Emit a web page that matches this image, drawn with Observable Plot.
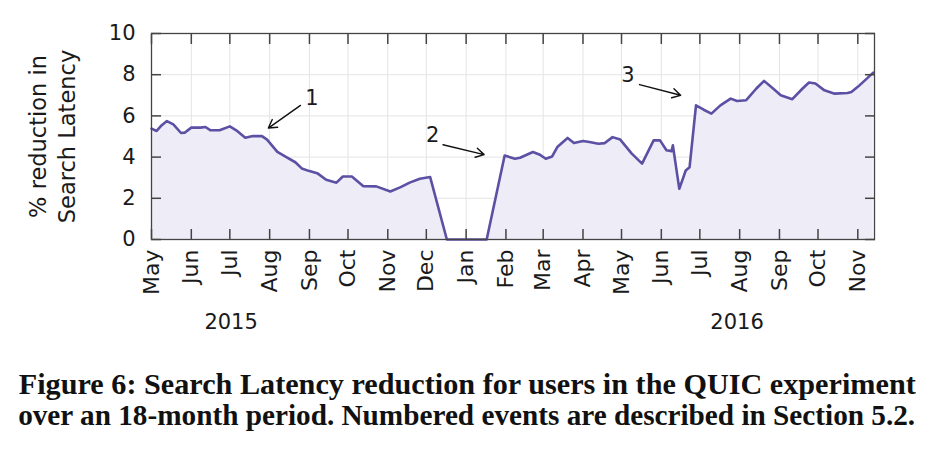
<!DOCTYPE html>
<html>
<head>
<meta charset="utf-8">
<script src="https://cdn.jsdelivr.net/npm/d3@7"></script>
<script src="https://cdn.jsdelivr.net/npm/@observablehq/plot@0.6"></script>
<style>
  html, body { margin: 0; padding: 0; background: #fff; }
  #chart { width: 930px; }
  #caption { font-family: "Liberation Serif", "Times New Roman", serif; font-weight: bold; font-size: 29px; color: #111; margin-top: 24px; }
  #caption div { white-space: nowrap; line-height: 31px; height: 31px; transform-origin: 0 0; padding-left: 18px; }
</style>
</head>
<body>
<div id="chart"></div>
<div id="caption">
  <div><span>Figure 6: Search Latency reduction for users in the QUIC experiment</span></div>
  <div><span>over an 18-month period. Numbered events are described in Section 5.2.</span></div>
</div>
<script>
// ---- data ----
const dates = [
  "2015-05-01","2015-05-05","2015-05-09","2015-05-13","2015-05-18","2015-05-24","2015-05-27",
  "2015-06-01","2015-06-08","2015-06-12","2015-06-16","2015-06-23","2015-07-01","2015-07-06",
  "2015-07-13","2015-07-19","2015-07-26","2015-07-30","2015-08-07","2015-08-14","2015-08-21",
  "2015-08-26","2015-09-01","2015-09-07","2015-09-14","2015-09-22","2015-09-27","2015-10-04",
  "2015-10-13","2015-10-23","2015-11-03","2015-11-11","2015-11-18","2015-11-26","2015-12-04",
  "2015-12-17","2016-01-17","2016-01-31","2016-02-08","2016-02-12","2016-02-22","2016-02-27",
  "2016-03-03","2016-03-08","2016-03-12","2016-03-20","2016-03-25","2016-04-01","2016-04-06",
  "2016-04-13","2016-04-18","2016-04-24","2016-04-30","2016-05-09","2016-05-17","2016-05-26",
  "2016-05-31","2016-06-05","2016-06-09","2016-06-10","2016-06-15","2016-06-20","2016-06-23",
  "2016-06-28","2016-07-04","2016-07-10","2016-07-17","2016-07-25","2016-07-30","2016-08-06",
  "2016-08-08","2016-08-14","2016-08-20","2016-08-27","2016-09-02","2016-09-11","2016-09-19",
  "2016-09-24","2016-09-29","2016-10-06","2016-10-14","2016-10-24","2016-10-27","2016-11-01",
  "2016-11-08","2016-11-13"
];
const values = [
  5.38,5.27,5.55,5.75,5.59,5.17,5.19,
  5.43,5.43,5.46,5.30,5.30,5.49,5.30,
  4.94,5.02,5.02,4.85,4.25,4.00,3.75,
  3.45,3.32,3.22,2.90,2.76,3.06,3.06,
  2.59,2.58,2.33,2.54,2.76,2.95,3.03,
  0,0,4.08,3.92,3.97,4.25,4.13,
  3.92,4.03,4.49,4.93,4.68,4.78,4.73,
  4.65,4.68,4.97,4.85,4.17,3.68,4.81,
  4.81,4.33,4.29,4.57,2.46,3.35,3.51,
  6.51,6.30,6.11,6.51,6.84,6.72,6.76,
  6.90,7.33,7.70,7.33,7.00,6.81,7.33,
  7.62,7.57,7.24,7.08,7.11,7.16,7.41,
  7.81,8.10
];
const monthTickDates = [
  "2015-05-01","2015-06-01","2015-07-01","2015-08-01","2015-09-01","2015-10-01","2015-11-01",
  "2015-12-01","2016-01-01","2016-02-01","2016-03-01","2016-04-01","2016-05-01","2016-06-01",
  "2016-07-01","2016-08-01","2016-09-01","2016-10-01","2016-11-01"
];
const monthLabels = ["May","Jun","Jul","Aug","Sep","Oct","Nov","Dec","Jan","Feb","Mar","Apr","May","Jun","Jul","Aug","Sep","Oct","Nov"];
const yTicks = [0, 2, 4, 6, 8, 10];
const yearLabels = ["2015", "2016"];
const yearLabelDates = ["2015-07-02", "2016-07-30"];
const xDomain = ["2015-05-01", "2016-11-14"];
const yDomain = [0, 10];
const yTitle = "% reduction in\nSearch Latency";

// annotations: label position and arrow start / end
const annoLabels = ["1", "2", "3"];
const annoLabelDates = ["2015-09-03", "2015-12-06", "2016-05-06"];
const annoLabelValues = [6.84, 5.06, 7.97];
const arrowFromDates = ["2015-08-25", "2015-12-14", "2016-05-15"];
const arrowFromValues = [6.51, 4.60, 7.52];
const arrowToDates = ["2015-07-31", "2016-01-15", "2016-06-16"];
const arrowToValues = [5.41, 4.12, 7.00];

// ---- build tables ----
const parse = d3.utcParse("%Y-%m-%d");
const data = dates.map((d, i) => ({date: parse(d), value: values[i]}));
const months = monthTickDates.map((d, i) => ({date: parse(d), label: monthLabels[i]}));
const monthDates = months.map(m => m.date);
const years = yearLabels.map((t, i) => ({date: parse(yearLabelDates[i]), label: t}));
const annos = annoLabels.map((t, i) => ({
  label: t,
  lx: parse(annoLabelDates[i]), ly: annoLabelValues[i],
  x1: parse(arrowFromDates[i]), y1: arrowFromValues[i],
  x2: parse(arrowToDates[i]), y2: arrowToValues[i]
}));

const lineColor = "#5b50a3";
const fillColor = "#edecf7";
const gridColor = "#e4e4e4";
const frameColor = "#444";

const chart = Plot.plot({
  width: 930,
  height: 345,
  marginLeft: 151,
  marginRight: 56,
  marginTop: 33,
  marginBottom: 106,
  style: {fontFamily: "DejaVu Sans", fontSize: "21px", color: "#1a1a1a", background: "#fff"},
  x: {type: "utc", domain: xDomain.map(parse)},
  y: {domain: yDomain},
  marks: [
    Plot.gridX(monthDates, {stroke: gridColor, strokeOpacity: 1}),
    Plot.gridY(yTicks, {stroke: gridColor, strokeOpacity: 1}),
    Plot.areaY(data, {x: "date", y: "value", fill: fillColor}),
    Plot.lineY(data, {x: "date", y: "value", stroke: lineColor, strokeWidth: 2.6, strokeLinejoin: "round"}),
    Plot.axisX(monthDates, {anchor: "bottom", tickSize: -10, tickFormat: () => "", stroke: frameColor, strokeWidth: 1.5, label: null}),
    Plot.axisX(monthDates, {anchor: "top", tickSize: -10, tickFormat: () => "", stroke: frameColor, strokeWidth: 1.5, label: null}),
    Plot.axisY(yTicks, {anchor: "left", tickSize: -10, tickFormat: () => "", stroke: frameColor, strokeWidth: 1.5, label: null}),
    Plot.axisY(yTicks, {anchor: "right", tickSize: -10, tickFormat: () => "", stroke: frameColor, strokeWidth: 1.5, label: null}),
    Plot.text(yTicks, {x: null, y: d => d, text: d => String(d), frameAnchor: "left", textAnchor: "end", dx: -16}),
    Plot.text(months, {x: "date", text: "label", frameAnchor: "bottom", rotate: -90, textAnchor: "end", lineAnchor: "middle", dy: 10, fontSize: 22}),
    Plot.text(years, {x: "date", text: "label", frameAnchor: "bottom", dy: 89}),
    Plot.text([yTitle], {frameAnchor: "left", rotate: -90, textAnchor: "middle", lineAnchor: "middle", dx: -100, lineHeight: 1.25, fontSize: 22.5, text: d => d}),
    Plot.frame({stroke: frameColor, strokeWidth: 1.3}),
    Plot.arrow(annos, {x1: "x1", y1: "y1", x2: "x2", y2: "y2", stroke: "#111", strokeWidth: 1.4, headLength: 10}),
    Plot.text(annos, {x: "lx", y: "ly", text: "label"})
  ]
});
document.getElementById("chart").appendChild(chart);

// fit caption lines to the reference width
document.querySelectorAll("#caption div").forEach(div => {
  const span = div.querySelector("span");
  const w = span.getBoundingClientRect().width;
  const target = 897;
  div.style.transform = `scaleX(${target / w})`;
});
</script>
</body>
</html>
